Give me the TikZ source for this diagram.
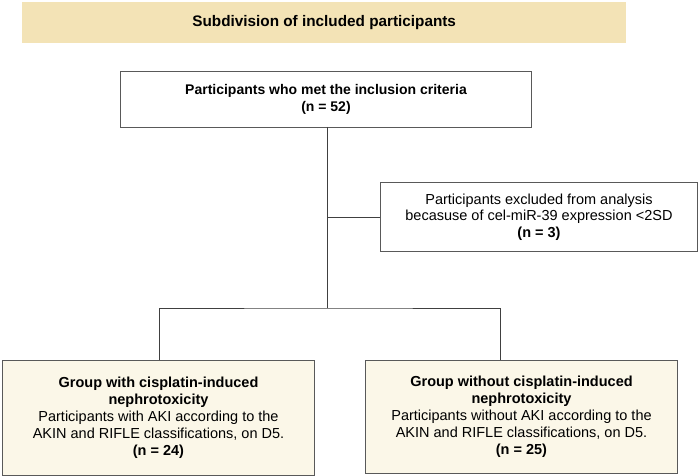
\documentclass[tikz,border=0pt]{standalone}
\usepackage{fontspec}
\setmainfont{Liberation Sans}
\begin{document}
\begin{tikzpicture}[x=1pt,y=-1pt,
  box/.style={draw=black!65,line width=1pt,inner sep=0pt,anchor=north west},
  conn/.style={draw=black!75,line width=1pt},
  tfont/.style={font=\fontsize{14.5}{17}\selectfont},
]
\definecolor{titlefill}{HTML}{F3E3B6}
\definecolor{groupfill}{HTML}{FBF7E8}
\useasboundingbox (0,0) rectangle (699,476);
\node[anchor=north west,fill=titlefill,minimum width=604pt,minimum height=41pt,inner sep=0pt] (title) at (22,2) {};
\node[font=\bfseries\fontsize{15.3}{17}\selectfont] (titletext) at (title.center) {Subdivision of included participants};
\node[box,minimum width=411pt,minimum height=56pt] (main) at (120,71) {};
\node[font=\bfseries\fontsize{14}{16.5}\selectfont,align=center] (maintext) at (main.center) {Participants who met the inclusion criteria\\(n = 52)};
\node[box,minimum width=317pt,minimum height=69pt] (excl) at (380,182) {};
\node[font=\fontsize{14.5}{16.5}\selectfont,align=center] (excltext) at (excl.center) {Participants excluded from analysis\\becasuse of cel-miR-39 expression <2SD\\\textbf{(n = 3)}};
\node[box,fill=groupfill,minimum width=312pt,minimum height=115pt] (g1) at (2,360) {};
\node[tfont,align=center] (g1text) at (g1.center) {\textbf{Group with cisplatin-induced}\\\textbf{nephrotoxicity}\\Participants with AKI according to the\\AKIN and RIFLE classifications, on D5.\\\textbf{(n = 24)}};
\node[box,fill=groupfill,minimum width=312pt,minimum height=113pt] (g2) at (365,360) {};
\node[tfont,align=center] (g2text) at (g2.center) {\textbf{Group without cisplatin-induced}\\\textbf{nephrotoxicity}\\Participants without AKI according to the\\AKIN and RIFLE classifications, on D5.\\\textbf{(n = 25)}};
\coordinate (top) at (327,127);
\coordinate (split) at (327,308);
\coordinate (branch) at (327,217);
\coordinate (drop1) at (159,360);
\coordinate (drop2) at (500,360);
\draw[conn] (top) -- (split);
\draw[conn] (branch) -- (excl.west |- branch);
\draw[conn] (drop1) |- (split) -| (drop2);
\end{tikzpicture}
\end{document}
